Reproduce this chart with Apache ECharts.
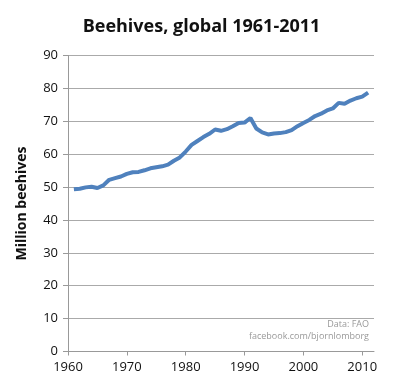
<!DOCTYPE html>
<html><head><meta charset="utf-8">
<script src="https://cdn.jsdelivr.net/npm/echarts@6/dist/echarts.min.js"></script>
<style>html,body{margin:0;padding:0;background:#fff}#c{width:403px;height:384px}</style>
</head><body><div id="c"></div>
<script>
const years = [1961,1962,1963,1964,1965,1966,1967,1968,1969,1970,1971,1972,1973,1974,1975,1976,1977,1978,1979,1980,1981,1982,1983,1984,1985,1986,1987,1988,1989,1990,1991,1992,1993,1994,1995,1996,1997,1998,1999,2000,2001,2002,2003,2004,2005,2006,2007,2008,2009,2010,2011];
const beehives = [49.3,49.5,49.9,50.1,49.7,50.5,52.2,52.7,53.2,54.0,54.5,54.6,55.1,55.7,56.0,56.3,56.8,58.0,59.0,60.8,62.8,64.0,65.2,66.2,67.5,67.1,67.6,68.5,69.5,69.6,71.0,67.8,66.6,66.0,66.3,66.4,66.7,67.3,68.5,69.5,70.4,71.6,72.3,73.3,73.9,75.6,75.3,76.3,77.0,77.5,78.7];
const xTicks = [1960,1970,1980,1990,2000,2010];
const title = "Beehives, global 1961-2011";
const yName = "Million beehives";
const sourceLines = ["Data: FAO", "facebook.com/bjornlomborg"];

const chart = echarts.init(document.getElementById('c'));
const font = "'Open Sans', 'Liberation Sans', sans-serif";
chart.setOption({
  animation: false,
  title: {text: title, left: 'center', top: 13, textStyle: {fontFamily: font, fontWeight: 'bold', fontSize: 18, color: '#111'}},
  grid: {left: 68, right: 29, top: 55.5, bottom: 32.5},
  xAxis: {
    type: 'value', min: 1960, max: 2012,
    axisLine: {show: true, lineStyle: {color: '#999', width: 1}},
    axisTick: {show: true, length: 4, lineStyle: {color: '#999'}, customValues: xTicks},
    axisLabel: {customValues: xTicks, formatter: v => String(v), color: '#111', fontSize: 13, fontFamily: font, margin: 9},
    splitLine: {show: false}
  },
  yAxis: {
    type: 'value', min: 0, max: 90, interval: 10,
    name: yName, nameLocation: 'middle', nameGap: 39,
    nameTextStyle: {fontFamily: font, fontWeight: 'bold', fontSize: 14, color: '#111'},
    axisLine: {show: true, lineStyle: {color: '#999', width: 1}},
    axisTick: {show: true, length: 5, lineStyle: {color: '#999'}},
    axisLabel: {color: '#111', fontSize: 13, fontFamily: font, margin: 10},
    splitLine: {show: true, lineStyle: {color: '#aaa', width: 1}}
  },
  graphic: [
    {type: 'text', right: 34, top: 320, style: {text: sourceLines[0], fill: '#999', font: "9px " + font, textAlign: 'right'}},
    {type: 'text', right: 34, top: 332, style: {text: sourceLines[1], fill: '#999', font: "9px " + font, textAlign: 'right'}}
  ],
  series: [{
    type: 'line', showSymbol: false,
    data: years.map((y, i) => [y, beehives[i]]),
    lineStyle: {color: '#4f81bd', width: 4},
    itemStyle: {color: '#4f81bd'}
  }]
});
</script></body></html>
